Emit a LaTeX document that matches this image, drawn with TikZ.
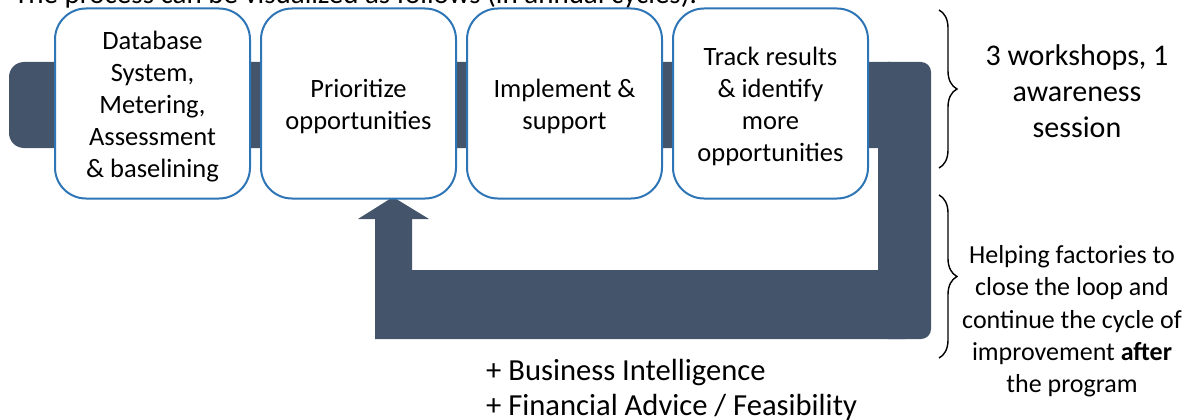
\documentclass[tikz,border=0pt]{standalone}
\usepackage{fontspec}
\setmainfont{Carlito}
\usetikzlibrary{decorations.pathreplacing}
\definecolor{bandgray}{HTML}{44546A}
\definecolor{boxblue}{HTML}{2E75B6}
\newcommand{\topstrut}{\rule{0pt}{\dimexpr0.7\baselineskip+7pt\relax}}
\begin{document}
\begin{tikzpicture}[x=1pt,y=-1pt,
  stepbox/.style={draw=boxblue, line width=2pt, fill=white, rounded corners=31pt,
    minimum width=195pt, minimum height=190pt, inner sep=0pt,
    text width=190pt, align=flush center,
    font=\fontsize{26.5}{32}\selectfont,
    execute at begin node=\topstrut, execute at end node=\strut},
  note/.style={inner sep=0pt, align=center,
    execute at begin node=\strut, execute at end node=\strut},
  band/.style={fill=bandgray},
  curly/.style={draw=black, line width=1.4pt,
    decorate, decoration={brace, amplitude=18pt}}
]
\path[use as bounding box] (0,0) rectangle (1191,420);

% heading line running across the top edge
\node[anchor=base west, inner sep=0pt, font=\fontsize{29}{35}\selectfont]
  (intro) at (14,4) {The process can be visualized as follows (in annual cycles).};

% the dark cycle band with its return arrow
\fill[band, rounded corners=15pt] (9,62) rectangle (905,148);
\fill[band, rounded corners=10pt] (878,62) rectangle (931,339);
\fill[band] (905,339) -- (375,339) -- (375,219) -- (358,219) -- (393,197)
  -- (429,219) -- (412,219) -- (412,270) -- (905,270) -- cycle;

% the four steps
\node[stepbox] (s1) at (152.5,103.5) {Database\\System,\\Metering,\\Assessment\\\& baselining};
\node[stepbox] (s2) at (358.5,103.5) {Prioritize\\opportunities};
\node[stepbox] (s3) at (564.5,103.5) {Implement \&\\support};
\node[stepbox] (s4) at (770.5,103.5) {Track results\\\& identify\\more\\opportunities};

% braces and side notes
\coordinate (b1top) at (939,10);
\coordinate (b1bot) at (939,168);
\coordinate (b2top) at (939,195);
\coordinate (b2bot) at (939,358);
\draw[curly] (b1top) -- (b1bot);
\draw[curly] (b2top) -- (b2bot);

\node[note, font=\fontsize{30}{36}\selectfont] (workshops) at (1077,96.5)
  {3 workshops, 1\\awareness\\session};
\node[note, font=\fontsize{26}{32.3}\selectfont] (loop) at (1072,324)
  {Helping factories to\\close the loop and\\continue the cycle of\\improvement \textbf{after}\\the program};

\node[note, align=left, anchor=west, font=\fontsize{30.6}{35}\selectfont] (extras) at (486,393)
  {+ Business Intelligence\\+ Financial Advice / Feasibility};
\end{tikzpicture}
\end{document}
